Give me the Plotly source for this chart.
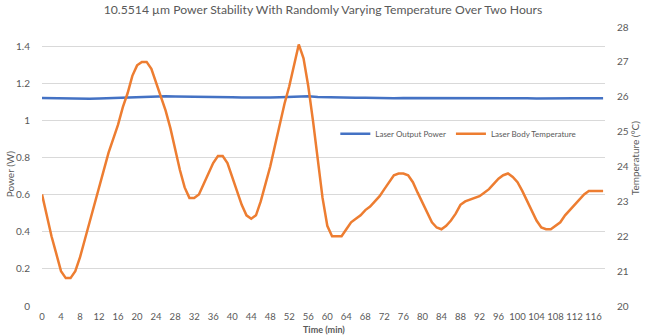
import plotly.graph_objects as go

# Time (min)
time_temp = list(range(0, 119))
temperature_c = [
    23.2, 22.6, 22.0, 21.5, 21.0, 20.8, 20.8, 21.0, 21.4, 21.9,
    22.4, 22.9, 23.4, 23.9, 24.4, 24.8, 25.2, 25.7, 26.1, 26.6,
    26.9, 27.0, 27.0, 26.8, 26.4, 26.0, 25.6, 25.1, 24.5, 23.9,
    23.4, 23.1, 23.1, 23.2, 23.5, 23.8, 24.1, 24.3, 24.3, 24.1,
    23.7, 23.3, 22.9, 22.6, 22.5, 22.6, 23.0, 23.5, 24.0, 24.6,
    25.2, 25.8, 26.3, 26.9, 27.5, 27.1, 26.3, 25.3, 24.2, 23.1,
    22.3, 22.0, 22.0, 22.0, 22.2, 22.4, 22.5, 22.6, 22.75, 22.85,
    23.0, 23.15, 23.35, 23.55, 23.75, 23.8, 23.8, 23.75, 23.55, 23.25,
    22.95, 22.65, 22.4, 22.25, 22.2, 22.3, 22.45, 22.65, 22.9, 23.0,
    23.05, 23.1, 23.15, 23.25, 23.35, 23.5, 23.65, 23.75, 23.8, 23.7,
    23.55, 23.3, 23.0, 22.7, 22.45, 22.25, 22.2, 22.2, 22.3, 22.4,
    22.6, 22.75, 22.9, 23.05, 23.2, 23.3, 23.3, 23.3, 23.3,
]

time_power = list(range(0, 119, 2))
power_w = [
    1.122, 1.121, 1.119, 1.118, 1.119, 1.118, 1.119, 1.121, 1.123, 1.126,
    1.128, 1.131, 1.133, 1.131, 1.130, 1.130, 1.129, 1.130, 1.128, 1.127,
    1.126, 1.125, 1.124, 1.124, 1.125, 1.126, 1.128, 1.129, 1.131, 1.128,
    1.126, 1.125, 1.124, 1.124, 1.123, 1.121, 1.120, 1.121, 1.122, 1.122,
    1.123, 1.123, 1.124, 1.123, 1.122, 1.122, 1.123, 1.122, 1.121, 1.121,
    1.122, 1.120, 1.119, 1.120, 1.121, 1.121, 1.121, 1.120, 1.121, 1.121,
]

x_ticks = list(range(0, 117, 4))
power_ticks = [0, 0.2, 0.4, 0.6, 0.8, 1, 1.2, 1.4]
power_tick_labels = ["0", "0.2", "0.4", "0.6", "0.8", "1", "1.2", "1.4"]
temp_ticks = list(range(20, 29))

GRAY = "#595959"
FONT = "Lato"

fig = go.Figure()
fig.add_trace(go.Scatter(
    x=time_power, y=power_w, name="Laser Output Power", mode="lines",
    line=dict(color="#4472C4", width=2.5), yaxis="y"))
fig.add_trace(go.Scatter(
    x=time_temp, y=temperature_c, name="Laser Body Temperature", mode="lines",
    line=dict(color="#ED7D31", width=2.5), yaxis="y2"))

fig.update_layout(
    width=646, height=336,
    margin=dict(l=42, r=41, t=27, b=30),
    paper_bgcolor="white", plot_bgcolor="white",
    font=dict(family=FONT, color=GRAY, size=10),
    title=dict(text="10.5514 µm Power Stability With Randomly Varying Temperature Over Two Hours",
               x=0.5, xanchor="center", y=1 - 10 / 336, yanchor="middle",
               font=dict(family=FONT, size=12.2, color=GRAY)),
    showlegend=True,
    legend=dict(orientation="h", x=0.521, y=0.617, xanchor="left", yanchor="middle",
                bgcolor="rgba(0,0,0,0)", font=dict(size=8, color=GRAY),
                itemwidth=30, tracegroupgap=0),
    xaxis=dict(range=[0, 118.4], tickvals=x_ticks, tickangle=0, showgrid=False,
               zeroline=False, showline=False, ticks="outside", ticklen=2,
               tickcolor="rgba(0,0,0,0)", tickfont=dict(size=9.5, color=GRAY)),
    yaxis=dict(range=[0, 1.505], tickvals=power_ticks, ticktext=power_tick_labels,
               showgrid=True, gridcolor="#D9D9D9", gridwidth=1, zeroline=False,
               showline=False, ticks="outside", ticklen=9, tickcolor="rgba(0,0,0,0)",
               tickfont=dict(size=10, color=GRAY)),
    yaxis2=dict(range=[20, 28], tickvals=temp_ticks, overlaying="y", side="right",
                showgrid=False, zeroline=False, showline=False, ticks="outside",
                ticklen=9, tickcolor="rgba(0,0,0,0)", tickfont=dict(size=10, color=GRAY)),
    annotations=[
        dict(text="Power (W)", xref="paper", yref="paper", x=-42 / 563 + 10 / 563,
             y=(305.5 - 174) / 278.5, textangle=-90, showarrow=False,
             xanchor="center", yanchor="middle", font=dict(size=10, color=GRAY)),
        dict(text="Temperature (°C)", xref="paper", yref="paper", x=(635 - 42) / 563,
             y=(305.5 - 158) / 278.5, textangle=-90, showarrow=False,
             xanchor="center", yanchor="middle", font=dict(size=10, color=GRAY)),
        dict(text="<b>Time (min)</b>", xref="paper", yref="paper", x=(324 - 42) / 563,
             y=-(335.5 - 305.5) / 278.5, showarrow=False, borderpad=0,
             xanchor="center", yanchor="bottom", font=dict(size=9, color=GRAY)),
    ],
)

fig.write_html("out.html")
